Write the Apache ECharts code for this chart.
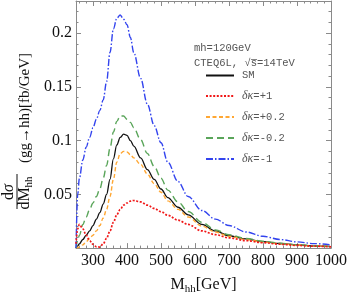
<!DOCTYPE html>
<html><head><meta charset="utf-8">
<script src="https://cdn.jsdelivr.net/npm/echarts@6/dist/echarts.min.js"></script>
<style>html,body{margin:0;padding:0;background:#fff}#c{width:350px;height:300px}</style>
</head><body><div id="c"></div>
<script>
// invariant mass grid (GeV)
const mass = [250,255,260,270,280,290,300,310,320,330,340,350,360,370,380,390,400,410,420,440,460,480,500,520,550,580,620,660,700,750,800,850,900,950,1000];
// dσ/dM_hh [fb/GeV]
const valSM    = [0,0.002,0.004,0.008,0.012,0.016,0.021,0.027,0.033,0.041,0.050,0.064,0.083,0.096,0.103,0.106,0.105,0.100,0.095,0.084,0.073,0.064,0.055,0.047,0.038,0.031,0.022,0.016,0.0115,0.0085,0.006,0.0043,0.003,0.002,0.0014];
const valP1    = [0.004,0.018,0.022,0.018,0.012,0.007,0.0035,0.0012,0.001,0.004,0.009,0.016,0.024,0.031,0.036,0.040,0.042,0.0437,0.0443,0.043,0.040,0.037,0.034,0.0305,0.026,0.022,0.016,0.0125,0.0095,0.007,0.005,0.0036,0.0025,0.0018,0.0012];
const valP02   = [0,0.0005,0.001,0.003,0.006,0.009,0.012,0.016,0.021,0.028,0.036,0.048,0.064,0.080,0.088,0.090,0.0895,0.087,0.084,0.078,0.069,0.060,0.052,0.044,0.036,0.029,0.0205,0.015,0.011,0.008,0.0057,0.0041,0.0029,0.002,0.0014];
const valM02   = [0,0.007,0.012,0.022,0.029,0.036,0.042,0.048,0.055,0.065,0.077,0.093,0.108,0.118,0.123,0.123,0.120,0.117,0.112,0.101,0.088,0.076,0.065,0.054,0.043,0.034,0.024,0.017,0.0125,0.009,0.0064,0.0045,0.0032,0.0022,0.0015];
const valM1    = [0,0.050,0.065,0.082,0.094,0.103,0.112,0.120,0.128,0.138,0.155,0.182,0.204,0.214,0.217,0.213,0.208,0.196,0.182,0.158,0.134,0.114,0.098,0.080,0.062,0.048,0.035,0.027,0.021,0.015,0.011,0.008,0.0058,0.0042,0.003];

const seriesNames = ['SM','δκ=+1','δκ=+0.2','δκ=-0.2','δκ=-1'];
const xMajor = [300,400,500,600,700,800,900,1000];
const xMinor = [260,280,320,340,360,380,420,440,460,480,520,540,560,580,620,640,660,680,720,740,760,780,820,840,860,880,920,940,960,980];
const yMajor = [0,0.05,0.1,0.15,0.2];
const yLabels = [0.05,0.1,0.15,0.2];
const yMinor = [0.01,0.02,0.03,0.04,0.06,0.07,0.08,0.09,0.11,0.12,0.13,0.14,0.16,0.17,0.18,0.19,0.21,0.22];

const AX = '#8a8a8a';
const SERIF = '"Liberation Serif", "Times New Roman", serif';
const MONO = '"Liberation Mono", "DejaVu Sans Mono", monospace';

function xAx(pos, major, labels) {
  return {
    type:'value', position:pos, min:250, max:1000,
    axisLine:{show:major, onZero:false, lineStyle:{color:AX, width:1}},
    axisTick:{show:true, inside:true, length: major?5:2.5, customValues: major?xMajor:xMinor, lineStyle:{color:AX}},
    axisLabel: labels ? {customValues:xMajor, fontFamily:SERIF, fontSize:16, color:'#111', margin:5, formatter:v=>String(v)} : {show:false},
    splitLine:{show:false}
  };
}
function yAx(pos, major, labels) {
  return {
    type:'value', position:pos, min:0, max:0.23,
    axisLine:{show:major, onZero:false, lineStyle:{color:AX, width:1}},
    axisTick:{show:true, inside:true, length: major?5:2.5, customValues: major?yMajor:yMinor, lineStyle:{color:AX}},
    axisLabel: labels ? {customValues:yLabels, fontFamily:SERIF, fontSize:16, color:'#111', margin:4, formatter:v=>String(v)} : {show:false},
    splitLine:{show:false}
  };
}

const xs = [xAx('bottom',true,true), xAx('bottom',false,false), xAx('top',true,false), xAx('top',false,false)];
xs[0].name = '{a|M}{b|hh}{a|[GeV]}';
xs[0].nameLocation = 'middle';
xs[0].nameGap = 28;
xs[0].nameTextStyle = {fontFamily:SERIF, color:'#111', rich:{
  a:{fontFamily:SERIF, fontSize:16, color:'#111', lineHeight:18, verticalAlign:'top'},
  b:{fontFamily:SERIF, fontSize:11, color:'#111', lineHeight:12, padding:[10,0,0,0], verticalAlign:'bottom'}
}};
const ys = [yAx('left',true,true), yAx('left',false,false), yAx('right',true,false), yAx('right',false,false)];

const styles = [
  {color:'#111111', type:'solid', width:1.3},
  {color:'#f01818', type:[2,1.6], width:1.7},
  {color:'#ffa733', type:[4,2.5], width:1.4},
  {color:'#5aa55a', type:[7,4], width:1.4},
  {color:'#3344ee', type:[7,2,1.5,2], width:1.4}
];
const zs = [3,6,4,4,5];
const vals = [valSM, valP1, valP02, valM02, valM1];

const series = vals.map((v,k)=>({
  name: seriesNames[k], type:'line', xAxisIndex:0, yAxisIndex:0, z: zs[k],
  data: mass.map((m,i)=>[m, v[i]]),
  showSymbol:false, symbol:'none', smooth:0.35, smoothMonotone:'x',
  lineStyle: styles[k], itemStyle:{color:styles[k].color}, silent:true, animation:false
}));

const chart = echarts.init(document.getElementById('c'), null, {renderer:'canvas'});
chart.setOption({
  animation:false,
  backgroundColor:'#fff',
  grid:{left:76, right:17, top:1, bottom:43, containLabel:false},
  xAxis: xs, yAxis: ys, series: series,
  legend:{
    orient:'vertical', left:200, top:65, itemWidth:28, itemHeight:10, itemGap:9,
    data: seriesNames, selectedMode:false,
    itemStyle:{opacity:0},
    formatter: n => n.replace('δκ','{i|δκ}'),
    textStyle:{fontFamily:MONO, fontSize:10.5, color:'#555', padding:[0,0,0,3],
      rich:{i:{fontFamily:SERIF, fontStyle:'italic', fontSize:12, color:'#555'}}}
  },
  graphic:[
    {type:'text', x:194, y:48, style:{text:'mh=120GeV', fontFamily:MONO, fontSize:10.5, fill:'#555', verticalAlign:'middle'}},
    {type:'text', x:194, y:63, style:{text:'CTEQ6L, √s\u0305=14TeV', fontFamily:MONO, fontSize:10.5, fill:'#555', verticalAlign:'middle'}},
    {type:'group', x:0, y:258, rotation:Math.PI/2, children:[
      {type:'text', x:66, y:9, style:{text:'{n|d}{i|σ}', align:'center', verticalAlign:'middle',
        rich:{n:{fontFamily:SERIF, fontSize:16, fill:'#111'}, i:{fontFamily:SERIF, fontStyle:'italic', fontSize:16, fill:'#111'}}}},
      {type:'line', shape:{x1:49, y1:17, x2:84, y2:17}, style:{stroke:'#111', lineWidth:1}},
      {type:'text', x:65, y:26, style:{text:'{a|dM}{b|hh}', align:'center', verticalAlign:'middle',
        rich:{a:{fontFamily:SERIF, fontSize:16, fill:'#111', lineHeight:18, verticalAlign:'top'},
              b:{fontFamily:SERIF, fontSize:11, fill:'#111', lineHeight:12, padding:[10,0,0,0], verticalAlign:'bottom'}}}},
      {type:'text', x:150, y:25, style:{text:'(gg→hh)[fb/GeV]', fontFamily:SERIF, fontSize:15, fill:'#111', align:'center', verticalAlign:'middle'}}
    ]}
  ]
});
</script>
</body></html>
